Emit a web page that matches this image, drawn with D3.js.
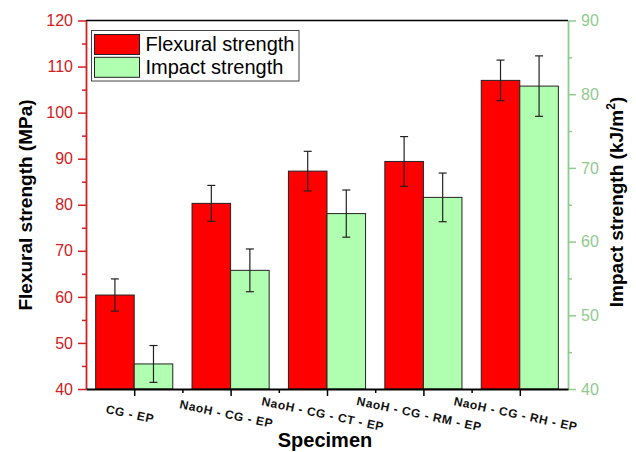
<!DOCTYPE html>
<html><head><meta charset="utf-8">
<script src="https://cdnjs.cloudflare.com/ajax/libs/d3/7.8.5/d3.min.js"></script>
<style>body{margin:0;background:#fff}svg{display:block}</style>
</head><body>
<script>
const categories = ["CG - EP","NaoH - CG - EP","NaoH - CG - CT - EP","NaoH - CG - RM - EP","NaoH - CG - RH - EP"];
const flexural = [60.4, 80.3, 87.3, 89.4, 107.0];
const flexuralErr = [3.5, 3.9, 4.3, 5.4, 4.4];
const impact = [43.4, 56.1, 63.8, 66.0, 81.1];
const impactErr = [2.5, 2.9, 3.2, 3.3, 4.1];
const leftTicks = [40,50,60,70,80,90,100,110,120];
const rightTicks = [40,50,60,70,80,90];
const seriesNames = ["Flexural strength","Impact strength"];

const W=636,H=452;
const L=86,R=568,T=20.5,B=389;
const FONT="'Liberation Sans', Arial, sans-serif";
const red="#ff0000", green="#b0ffb0", axRed="#d02020", axGreen="#8fca8f";

const svg=d3.select("body").append("svg").attr("width",W).attr("height",H).style("font-family",FONT);
const x=d3.scaleLinear().domain([0.5,categories.length+0.5]).range([L,R]);
const yL=d3.scaleLinear().domain([40,120]).range([B,T]);
const yR=d3.scaleLinear().domain([40,90]).range([B,T]);
const bw=x(1.4)-x(1);

// bars
const g=svg.append("g");
categories.forEach((c,i)=>{
  const cx=x(i+1);
  g.append("rect").attr("x",cx-bw).attr("y",yL(flexural[i])).attr("width",bw).attr("height",B-yL(flexural[i]))
   .attr("fill",red).attr("stroke","#222").attr("stroke-width",1);
  g.append("rect").attr("x",cx).attr("y",yR(impact[i])).attr("width",bw).attr("height",B-yR(impact[i]))
   .attr("fill",green).attr("stroke","#222").attr("stroke-width",1);
});
function errbar(px,ytop,ybot){
  const e=g.append("g").attr("stroke","#222").attr("stroke-width",1.2);
  e.append("line").attr("x1",px).attr("x2",px).attr("y1",ytop).attr("y2",ybot);
  e.append("line").attr("x1",px-4).attr("x2",px+4).attr("y1",ytop).attr("y2",ytop);
  e.append("line").attr("x1",px-4).attr("x2",px+4).attr("y1",ybot).attr("y2",ybot);
}
categories.forEach((c,i)=>{
  const cx=x(i+1);
  errbar(cx-bw/2,yL(flexural[i]+flexuralErr[i]),yL(flexural[i]-flexuralErr[i]));
  errbar(cx+bw/2,yR(impact[i]+impactErr[i]),yR(impact[i]-impactErr[i]));
});

// top frame
svg.append("line").attr("x1",L).attr("x2",R).attr("y1",T).attr("y2",T).attr("stroke","#000").attr("stroke-width",1.5);

// left axis
const la=svg.append("g").attr("transform",`translate(${L},0)`)
  .call(d3.axisLeft(yL).tickValues(leftTicks).tickSize(8).tickPadding(5).tickSizeOuter(0));
la.select(".domain").attr("stroke",axRed).attr("stroke-width",1.8);
la.selectAll(".tick line").attr("stroke",axRed).attr("stroke-width",1.5);
la.selectAll(".tick text").attr("fill",axRed).style("font-size","16px").style("font-family",FONT);
const laMin=svg.append("g").attr("transform",`translate(${L},0)`)
  .call(d3.axisLeft(yL).tickValues(d3.range(45,120,10)).tickSize(4).tickFormat(""));
laMin.select(".domain").remove();
laMin.selectAll(".tick line").attr("stroke",axRed).attr("stroke-width",1.5);

// right axis
const ra=svg.append("g").attr("transform",`translate(${R},0)`)
  .call(d3.axisRight(yR).tickValues(rightTicks).tickSize(8).tickPadding(5).tickSizeOuter(0));
ra.select(".domain").attr("stroke",axGreen).attr("stroke-width",1.8);
ra.selectAll(".tick line").attr("stroke",axGreen).attr("stroke-width",1.5);
ra.selectAll(".tick text").attr("fill",axGreen).style("font-size","16px").style("font-family",FONT);
const raMin=svg.append("g").attr("transform",`translate(${R},0)`)
  .call(d3.axisRight(yR).tickValues(d3.range(45,90,10)).tickSize(4).tickFormat(""));
raMin.select(".domain").remove();
raMin.selectAll(".tick line").attr("stroke",axGreen).attr("stroke-width",1.5);

// bottom axis
const ba=svg.append("g").attr("transform",`translate(0,${B})`)
  .call(d3.axisBottom(x).tickValues(d3.range(1,categories.length+1)).tickSize(7).tickFormat("").tickSizeOuter(0));
ba.select(".domain").attr("stroke","#000").attr("stroke-width",1.8);
ba.selectAll(".tick line").attr("stroke","#000").attr("stroke-width",1.5);
const baMin=svg.append("g").attr("transform",`translate(0,${B})`)
  .call(d3.axisBottom(x).tickValues(d3.range(1.5,categories.length,1)).tickSize(4).tickFormat(""));
baMin.select(".domain").remove();
baMin.selectAll(".tick line").attr("stroke","#000").attr("stroke-width",1.5);

// category labels
categories.forEach((c,i)=>{
  svg.append("text").attr("transform",`translate(${x(i+1)-5},418) rotate(12)`)
    .attr("text-anchor","middle").style("font-size","12px").style("font-weight","bold")
    .style("letter-spacing","0.6px").attr("fill","#111").text(c);
});

// axis titles
svg.append("text").attr("transform",`translate(32,205) rotate(-90)`).attr("text-anchor","middle")
  .style("font-size","19px").style("font-weight","bold").text("Flexural strength (MPa)");
const rt=svg.append("text").attr("transform",`translate(623,202) rotate(-90)`).attr("text-anchor","middle")
  .style("font-size","19px").style("font-weight","bold");
rt.append("tspan").text("Impact strength (kJ/m");
rt.append("tspan").attr("dy",-8).style("font-size","12px").text("2");
rt.append("tspan").attr("dy",8).text(")");
svg.append("text").attr("x",325).attr("y",447).attr("text-anchor","middle")
  .style("font-size","20px").style("font-weight","bold").text("Specimen");

// legend
const lg=svg.append("g");
lg.append("rect").attr("x",91.5).attr("y",30.5).attr("width",207.5).attr("height",50.5)
  .attr("fill","#fff").attr("stroke","#444").attr("stroke-width",1);
[red,green].forEach((col,k)=>{
  lg.append("rect").attr("x",94.5).attr("y",34.5+k*22.8).attr("width",45).attr("height",20)
    .attr("fill",col).attr("stroke","#222").attr("stroke-width",1);
  lg.append("text").attr("x",145.5).attr("y",51+k*22.8).style("font-size","20px").attr("fill","#000").text(seriesNames[k]);
});
</script>
</body></html>
